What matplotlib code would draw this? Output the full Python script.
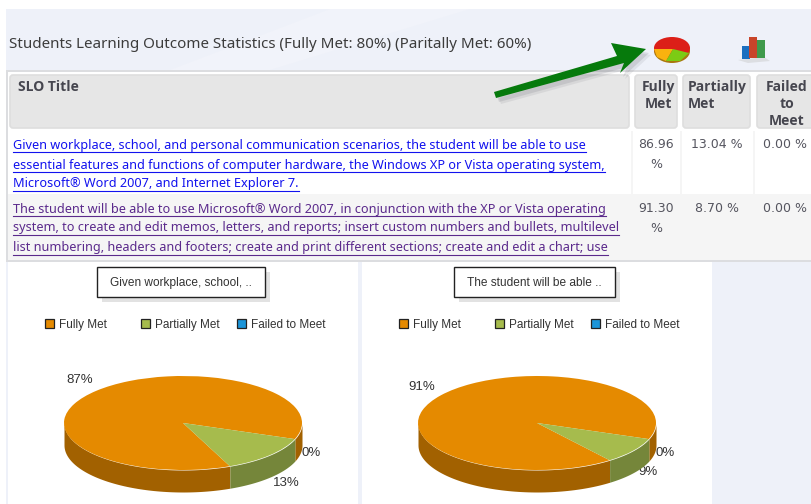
import matplotlib
matplotlib.use("Agg")
import matplotlib.pyplot as plt
from matplotlib.patches import FancyBboxPatch, Polygon, Rectangle, Ellipse
import numpy as np

# data
categories = ["Fully Met", "Partially Met", "Failed to Meet"]
slo_first = [86.96, 13.04, 0.00]
slo_second = [91.30, 8.70, 0.00]
pie_first = [87, 13, 0]
pie_second = [91, 9, 0]
pie_titles = ["Given workplace, school, ..", "The student will be able .."]
header_title = "Students Learning Outcome Statistics (Fully Met: 80%) (Paritally Met: 60%)"
row_one_lines = [
    "Given workplace, school, and personal communication scenarios, the student will be able to use",
    "essential features and functions of computer hardware, the Windows XP or Vista operating system,",
    "Microsoft® Word 2007, and Internet Explorer 7.",
]
row_two_lines = [
    "The student will be able to use Microsoft® Word 2007, in conjunction with the XP or Vista operating",
    "system, to create and edit memos, letters, and reports; insert custom numbers and bullets, multilevel",
    "list numbering, headers and footers; create and print different sections; create and edit a chart; use",
]

top_colors = ["#e58a00", "#a6bb4d", "#1b95d9"]
side_colors = ["#a26100", "#75863a", "#12689a"]
WIDTH, HEIGHT = 811, 504
DEPTH = 22 / 47  # rim height in units of the pie's short radius

fig = plt.figure(figsize=(WIDTH / 100, HEIGHT / 100), dpi=100, facecolor="white")
ax = fig.add_axes([0, 0, 1, 1])
ax.set_xlim(0, WIDTH)
ax.set_ylim(HEIGHT, 0)
ax.axis("off")

# page background
ax.add_patch(Rectangle((6, 9), 805, 495, fc="#eef1f9", ec="none"))
ax.add_patch(Polygon([(170, 70), (330, 9), (470, 9), (270, 70)], fc="#f1f3fa", ec="none"))
ax.add_patch(Rectangle((6, 70), 805, 192, fc="#dcdde0", ec="none"))
ax.add_patch(Rectangle((8, 72), 803, 188, fc="white", ec="none"))
ax.add_patch(Rectangle((8, 194), 803, 66, fc="#f5f5f5", ec="none"))

ax.text(9, 44, header_title, fontsize=10.9, family="Noto Sans", color="#3c3c3c", va="center", ha="left")

# table header cells
for x0, x1 in [(9, 630), (634, 678), (682, 751), (756, 815)]:
    ax.add_patch(FancyBboxPatch((x0 + 1, 75), x1 - x0 - 2, 53, boxstyle="round,pad=0,rounding_size=3",
                                fc="#e6e6e6", ec="#dedede", lw=1.2))
for x0 in [631, 680, 753]:
    ax.add_patch(Rectangle((x0, 131), 2, 63, fc="#f5f5f5", ec="none"))

head_style = dict(fontsize=10, family="Open Sans", fontweight="bold", color="#46464f", va="center")
ax.text(18, 87, "SLO Title", ha="left", **head_style)
ax.text(658.5, 87, "Fully", ha="center", **head_style)
ax.text(658.5, 104, "Met", ha="center", **head_style)
ax.text(688, 87, "Partially", ha="left", **head_style)
ax.text(688, 104, "Met", ha="left", **head_style)
ax.text(787, 87, "Failed", ha="center", **head_style)
ax.text(787, 104, "to", ha="center", **head_style)
ax.text(787, 121, "Meet", ha="center", **head_style)

# linked SLO titles with underlines drawn from the measured text width
renderer = fig.canvas.get_renderer()
inv = ax.transData.inverted()
for lines, ys, color in [(row_one_lines, [145, 165, 184], "#1212ee"),
                         (row_two_lines, [209, 228, 248], "#5b2a8c")]:
    for line, y in zip(lines, ys):
        t = ax.text(13, y, line, fontsize=9.15, family="Noto Sans", color=color, va="center", ha="left")
        x_end = inv.transform(t.get_window_extent(renderer).get_points())[1][0]
        ax.plot([13, x_end], [y + 6.5, y + 6.5], color=color, lw=0.8)

# percentages
cell_style = dict(fontsize=9, family="DejaVu Sans", color="#55555f", va="center", ha="center")
for values, y in [(slo_first, 145), (slo_second, 208)]:
    ax.text(656, y, f"{values[0]:.2f}", **cell_style)
    ax.text(656, y + 20, "%", **cell_style)
    ax.text(717, y, f"{values[1]:.2f} %", **cell_style)
    ax.text(785, y, f"{values[2]:.2f} %", **cell_style)

# small toolbar icons
cx, cy = 672, 48
ax.add_patch(Ellipse((cx, cy + 3), 36, 24, fc="#a8770f", ec="none"))
ax.add_patch(Ellipse((cx, cy), 36, 22, fc="#dc1f18", ec="none"))
ax.add_patch(Polygon([(cx + 1, cy + 1), (cx - 18, cy + 1), (cx - 15, cy + 9), (cx - 6, cy + 13)], fc="#f9b20f", ec="none"))
ax.add_patch(Polygon([(cx + 1, cy + 1), (cx - 6, cy + 13), (cx + 8, cy + 13), (cx + 17, cy + 5)], fc="#7ccb14", ec="none"))
ax.add_patch(Polygon([(738, 60), (764, 57), (770, 61), (748, 63)], fc="#dcdee2", ec="none"))
for x0, y0, h, c in [(742, 46, 13, "#1b6fc0"), (749, 37, 21, "#c8452a"), (757, 40, 18, "#3f9a4c")]:
    ax.add_patch(Rectangle((x0, y0), 8, h, fc=c, ec="none"))

# green arrow with soft shadow
arrow_pts = np.array([(494, 92), (617, 56), (611, 43), (646, 49), (620, 73), (624, 63), (496, 98)], dtype=float)
for dx, dy, col, al in [(5, 6, "#70727a", 0.12), (3, 4, "#70727a", 0.18), (0, 0, "#067a0c", 1)]:
    ax.add_patch(Polygon(arrow_pts + [dx, dy], fc=col, ec="none", alpha=al))

# chart panels
ax.add_patch(Rectangle((8, 262), 350, 242, fc="white", ec="none"))
ax.add_patch(Rectangle((362, 262), 350, 242, fc="white", ec="none"))


def draw_panel(values, title, x_off, box, label_pos):
    # title box with shadow
    bx0, bx1 = box
    ax.add_patch(Rectangle((bx0 + 5, 272), bx1 - bx0, 30, fc="#e2e2e2", ec="none"))
    ax.add_patch(Rectangle((bx0, 267), bx1 - bx0, 30, fc="white", ec="#222222", lw=1))
    ax.text((bx0 + bx1) / 2, 283, title, fontsize=8.6, family="Liberation Sans", color="#333333",
            ha="center", va="center")

    # legend
    for i, (name, lx) in enumerate(zip(categories, [44, 140, 236])):
        ax.add_patch(Rectangle((x_off + lx + 1, 319), 9, 9, fc=top_colors[i], ec="#222222", lw=0.9))
        ax.text(x_off + lx + 15, 325, name, fontsize=8.5, family="Liberation Sans", color="#333333",
                ha="left", va="center")

    # the pie lives in an axes stretched to the ellipse plus its rim
    left, right = x_off + 64, x_off + 302
    top, bottom = 376, 492
    pie_ax = fig.add_axes([left / WIDTH, 1 - bottom / HEIGHT, (right - left) / WIDTH, (bottom - top) / HEIGHT])
    share = np.array(values, dtype=float) / sum(values) * 360
    start = -20 + share[0]
    wedges, _ = pie_ax.pie(values, colors=top_colors, startangle=start, counterclock=False, radius=1)
    pie_ax.set_aspect("auto")
    pie_ax.set_xlim(-1, 1)
    pie_ax.set_ylim(-1 - DEPTH, 1)
    pie_ax.axis("off")

    # rim below the front half of the pie
    for w, col in zip(wedges, side_colors):
        for a0, a1 in [(w.theta1, w.theta2), (w.theta1 + 360, w.theta2 + 360), (w.theta1 - 360, w.theta2 - 360)]:
            lo, hi = max(a0, 180), min(a1, 360)
            if hi > lo:
                th = np.radians(np.linspace(lo, hi, 80))
                pie_ax.fill_between(np.cos(th), np.sin(th), np.sin(th) - DEPTH, color=col, lw=0, zorder=0.5)

    for txt, (lx, ly) in zip(values, label_pos):
        ax.text(x_off + lx, ly, f"{txt}%", fontsize=9.5, family="Liberation Sans", color="#333333",
                ha="center", va="center")


draw_panel(pie_first, pie_titles[0], 0, (97, 265), [(80, 380), (286, 483), (311, 453)])
draw_panel(pie_second, pie_titles[1], 354, (454, 615), [(68, 387), (294, 472), (311, 453)])

fig.savefig("out.png", dpi=100)
